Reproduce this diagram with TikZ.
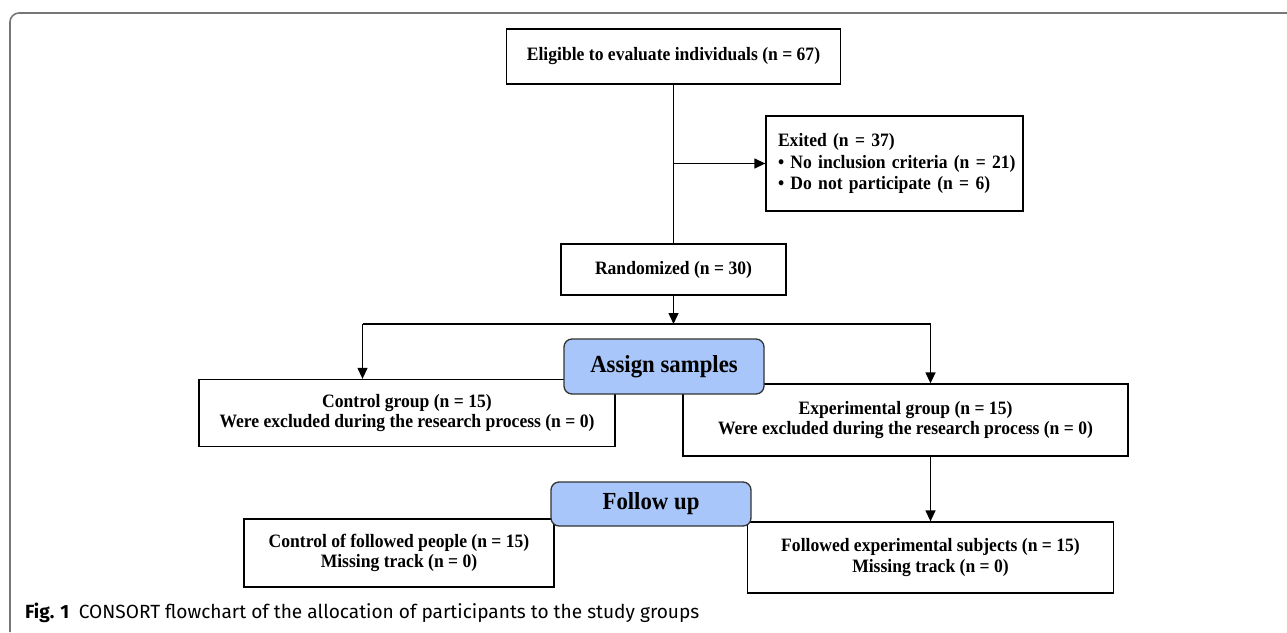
\documentclass[tikz,border=0pt]{standalone}
\usepackage{fontspec}
\setmainfont{Liberation Serif}[FakeStretch=0.93]
\newfontfamily\capfont{Fira Sans}
\usetikzlibrary{arrows.meta}
\definecolor{phaseblue}{RGB}{168,198,250}
\definecolor{framegray}{RGB}{118,118,118}
\tikzset{
  box/.style={draw=black, line width=1.3pt, fill=white, inner sep=0pt, align=center,
     font=\bfseries\fontsize{18.9}{20.5}\selectfont},
  phase/.style={draw=black!80, line width=1.3pt, fill=phaseblue, rounded corners=8pt, inner sep=0pt,
     font=\bfseries\fontsize{24.5}{26}\selectfont},
  arr/.style={line width=1.3pt, -{Triangle[length=11pt,width=10pt]}},
  ln/.style={line width=1.3pt}
}
\begin{document}
\begin{tikzpicture}[x=1pt,y=-1pt]
\useasboundingbox (0,0) rectangle (1287,632);
% frame
\draw[framegray, line width=1.6pt, rounded corners=9pt] (1287,13) -- (10,13) -- (10,632);

\node[box, minimum width=334pt, minimum height=55pt] (elig) at (673.5,56.5) {Eligible to evaluate individuals (n = 67)};
\node[box, minimum width=257pt, minimum height=95pt, text width=245pt, inner xsep=6pt, align=left,
      font=\bfseries\fontsize{18.9}{21.5}\selectfont] (exit) at (894.5,163.5)
      {\hspace*{6pt}Exited (n = 37)\\ \hspace*{6pt}• No inclusion criteria (n = 21)\\ \hspace*{6pt}• Do not participate (n = 6)};
\node[box, minimum width=225pt, minimum height=51pt] (rand) at (673.5,269.5) {Randomized (n = 30)};

\node[box, minimum width=416pt, minimum height=67pt, font=\bfseries\fontsize{18.9}{19.5}\selectfont] (ctrl) at (407,413)
      {Control group (n = 15)\\ Were excluded during the research process (n = 0)};
\node[box, minimum width=445pt, minimum height=72pt] (expg) at (905.5,420)
      {Experimental group (n = 15)\\ Were excluded during the research process (n = 0)};
\node[phase, minimum width=200pt, minimum height=55pt] (assign) at (664,366.5) {Assign samples};

\node[box, minimum width=366pt, minimum height=71pt] (fexp) at (930.5,557.5)
      {Followed experimental subjects (n = 15)\\ Missing track (n = 0)};
\node[box, minimum width=310pt, minimum height=68pt] (fctrl) at (399,553)
      {Control of followed people (n = 15)\\ Missing track (n = 0)};
\node[phase, minimum width=200pt, minimum height=44pt] (follow) at (651,504) {Follow up};

% connectors
\draw[ln] (elig.south) -- (rand.north);
\draw[arr] (elig.south |- exit.west) -- (exit.west);
\coordinate (split) at (673.5,324);
\draw[arr] (rand.south) -- (split);
\draw[framegray!60!black, line width=2.4pt] (606,324) -- (702,324);
\coordinate (bl) at (362.5,324);
\coordinate (br) at (930.5,324);
\draw[ln] (bl) -- (br);
\draw[arr] (bl) -- (bl |- ctrl.north);
\draw[arr] (br) -- (br |- expg.north);
\draw[arr] (fexp.north |- expg.south) -- (fexp.north);

% caption
\node[anchor=base west, inner sep=0pt, font=\capfont\fontsize{19.1}{21}\selectfont] (cap) at (25,618)
  {\textbf{Fig. 1}\hspace{0.5em}CONSORT flowchart of the allocation of participants to the study groups};
\end{tikzpicture}
\end{document}
